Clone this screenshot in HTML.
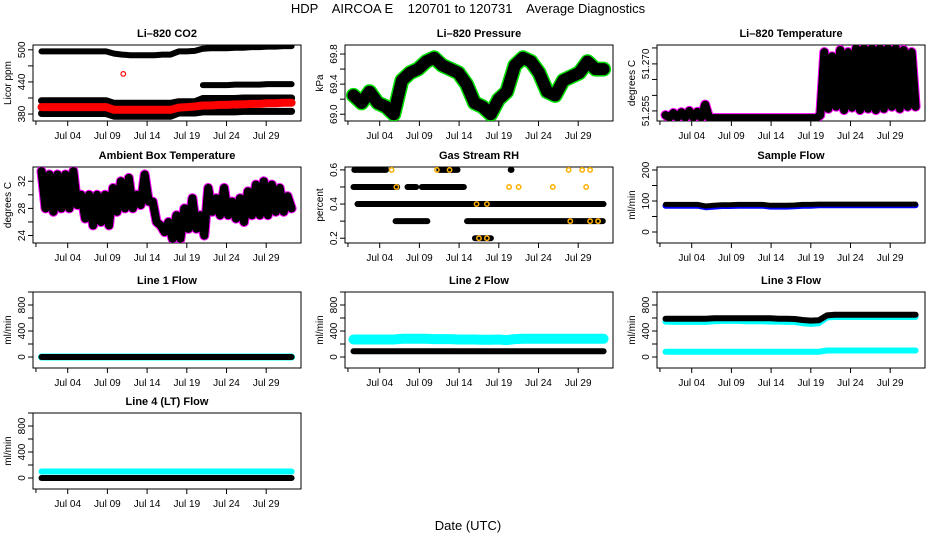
<!DOCTYPE html>
<html><head><meta charset="utf-8">
<style>
html,body{margin:0;padding:0;background:#fff;}
svg{display:block;font-family:"Liberation Sans",sans-serif;}
</style></head>
<body>
<svg id="chart" width="936" height="540" viewBox="0 0 936 540" xmlns="http://www.w3.org/2000/svg">
<text x="468" y="13" text-anchor="middle" font-size="13" style="white-space:pre" xml:space="preserve">HDP    AIRCOA E    120701 to 120731    Average Diagnostics</text>
<text x="468" y="530" text-anchor="middle" font-size="13">Date (UTC)</text>
</svg>
<script>
// ---- shared axis data ----
const tickDays = [3, 8, 13, 18, 23, 28];
const tickLabels = ['Jul 04', 'Jul 09', 'Jul 14', 'Jul 19', 'Jul 24', 'Jul 29'];

// ---- Li-820 CO2 (daily, Jul01..Aug01) ----
const co2Top = [497,497,497,497,497,497,497,497,497,493,491,490,490,490,490,491,491,497,497,498,502,503,503,503,504,504,505,505,506,506,507,507];
const co2Upper = [null,null,null,null,null,null,null,null,null,null,null,null,null,null,null,null,null,null,null,null,434,434,434,434,435,435,435,435,436,436,436,436];
const co2Mid = [405,405,405,405,405,405,405,405,405,400,400,400,400,400,400,400,400,403,403,403,409,409,409,409,409,410,410,410,410,410,410,410];
const co2Red = [393,393,393,393,393,393,393,393,393,388,388,388,388,388,388,388,388,392,393,394,396,396,397,397,398,398,399,399,400,400,401,401];
const co2Low = [381,381,381,381,381,381,381,381,381,376,376,376,376,376,376,376,376,382,382,382,384,384,384,384,384,385,385,385,385,385,385,385];

// ---- Li-820 Pressure (daily) ----
const pres = [69.25,69.15,69.3,69.15,69.1,69.0,69.45,69.55,69.6,69.7,69.75,69.65,69.6,69.55,69.4,69.15,69.1,69.0,69.2,69.3,69.65,69.75,69.7,69.55,69.3,69.25,69.45,69.5,69.55,69.7,69.6,69.6];

// ---- Li-820 Temperature (half-daily hi/lo) ----
const tempLi = [51.2540,51.2534,51.2545,51.2534,51.2547,51.2534,51.2550,51.2534,51.2548,51.2534,51.2565,51.2533,51.2533,51.2533,51.2533,51.2533,51.2533,51.2533,51.2533,51.2533,51.2533,51.2533,51.2533,51.2533,51.2533,51.2533,51.2533,51.2533,51.2533,51.2533,51.2533,51.2533,51.2533,51.2533,51.2533,51.2533,51.2533,51.2533,51.2533,51.2540,51.2690,51.2555,51.2680,51.2560,51.2695,51.2552,51.2690,51.2558,51.2700,51.2552,51.2700,51.2555,51.2700,51.2552,51.2700,51.2555,51.2700,51.2560,51.2700,51.2555,51.2695,51.2560,51.2690,51.2560];

// ---- Ambient Box Temperature (half-daily hi/lo) ----
const ambient = [33.5,28,33,27.5,33,28,33,28,33.5,28.5,30,26.5,30,25.5,30,26,30,25.5,31,27.5,32,28,32.5,28,30,28.5,33,29,29,26,25.5,24.5,26,23.5,27,23.5,28,25,29.5,25,27,24,31,27.5,29.5,27,31,27,29,26.5,29.5,26,30.5,27,31.5,27,32,27,31.5,27.5,31,27.5,29.8,28];

// ---- Gas Stream RH segments ----
const rhLevel = [0.6,0.6,0.5,0.5,0.5,0.4,0.3,0.3,0.2,0.6];
const rhStart = [-0.2,10.5,-0.3,6.5,8.3,0.2,5.0,14.0,15.0,19.5];
const rhEnd   = [3.8,12.8,5.2,7.6,13.6,31.2,9.0,31.1,17.0,19.6];
const rhOrange = [[4.5,0.6],[10.2,0.6],[11.8,0.6],[5.1,0.5],[19.3,0.5],[20.5,0.5],[24.8,0.5],[29,0.5],[15.2,0.4],[16.5,0.4],[15.5,0.2],[16.5,0.2],[26.8,0.6],[28.5,0.6],[29.5,0.6],[27,0.3],[29.5,0.3],[30.5,0.3]];

// ---- Flows (daily) ----
const sampleBlue = [85,85,85,85,85,80,82,84,84,85,85,85,85,82,82,82,83,85,85,86,86,86,86,86,86,86,86,86,86,86,86,86];
const sampleBlack = [89,89,89,89,89,84,86,88,88,89,89,89,89,86,86,86,87,89,89,90,90,90,90,90,90,90,90,90,90,90,90,90];
const line1Black = [0,0,0,0,0,0,0,0,0,0,0,0,0,0,0,0,0,0,0,0,0,0,0,0,0,0,0,0,0,0,0,0];
const line2Cyan = [270,270,270,270,270,270,280,280,280,280,275,275,275,270,270,270,265,265,270,260,275,280,280,280,280,280,280,280,280,280,280,280];
const line2Black = [90,90,90,90,90,90,90,90,90,90,90,90,90,90,90,90,90,90,90,90,90,90,90,90,90,90,90,90,90,90,90,90];
const line3Black = [590,590,590,590,590,590,595,595,595,595,595,595,595,595,590,590,585,570,560,565,640,650,650,650,650,650,650,650,650,650,650,650];
const line3CyanHi = [545,540,540,540,540,540,550,555,555,555,550,550,550,545,545,540,540,520,510,520,610,615,615,615,615,615,615,615,615,615,615,615];
const line3CyanLo = [80,80,80,80,80,80,80,80,80,80,80,80,80,80,80,80,80,80,80,80,100,100,100,100,100,100,100,100,100,100,100,100];
const line4Cyan = [100,100,100,100,100,100,100,100,100,100,100,100,100,100,100,100,100,100,100,100,100,100,100,100,100,100,100,100,100,100,100,100];
const line4Black = [0,0,0,0,0,0,0,0,0,0,0,0,0,0,0,0,0,0,0,0,0,0,0,0,0,0,0,0,0,0,0,0];

const NS = 'http://www.w3.org/2000/svg';
const svg = document.getElementById('chart');
const rowTop = [45, 167, 292, 413];
const BOXH = 76, BOXW = 268, T0 = -0.3, T1 = 31.2;

function mk(tag, attrs, parent) {
  const e = document.createElementNS(NS, tag);
  for (const k in attrs) e.setAttribute(k, attrs[k]);
  (parent || svg).appendChild(e);
  return e;
}

function panel(col, row, title, ylab, yMin, yMax, yTicks, yLabels, name) {
  const L = 33 + 312 * col, T = rowTop[row];
  const g = mk('g', {});
  
  
  const xs = t => L + 34.7 + (t - 3) * 7.94;
  const ys = v => T + (yMax - v) / (yMax - yMin) * BOXH;
  const box = mk('rect', {x: L, y: T, width: BOXW, height: BOXH, fill: 'none', stroke: '#000', 'stroke-width': 1}, g);
  
  
  const tt = mk('text', {x: L + BOXW / 2, y: T - 8, 'text-anchor': 'middle', 'font-size': 11, 'font-weight': 'bold'}, g);
  tt.textContent = title;
  
  
  const yl = mk('text', {x: 0, y: 0, 'text-anchor': 'middle', 'font-size': 10, transform: `translate(${L - 22},${T + BOXH / 2}) rotate(-90)`}, g);
  yl.textContent = ylab;
  
  
  const xa = mk('g', {}, g);
  
  
  mk('line', {x1: xs(T0 - 1.1), x2: xs(T1 + 1.1), y1: T + BOXH, y2: T + BOXH, stroke: '#000'}, xa);
  mk('line', {x1: xs(-1), x2: xs(-1), y1: T + BOXH, y2: T + BOXH + 4, stroke: '#000'}, xa);
  tickDays.forEach((d, i) => {
    mk('line', {x1: xs(d), x2: xs(d), y1: T + BOXH, y2: T + BOXH + 5, stroke: '#000'}, xa);
    const lb = mk('text', {x: xs(d), y: T + BOXH + 18, 'text-anchor': 'middle', 'font-size': 10}, xa);
    lb.textContent = tickLabels[i];
    
    
  });
  const ya = mk('g', {}, g);
  
  
  yTicks.forEach((v, i) => {
    mk('line', {x1: L - 5, x2: L, y1: ys(v), y2: ys(v), stroke: '#000'}, ya);
    if (yLabels[i]) {
      const lb = mk('text', {x: 0, y: 0, 'text-anchor': 'middle', 'font-size': 10, transform: `translate(${L - 8},${ys(v)}) rotate(-90)`}, ya);
      lb.textContent = yLabels[i];
      
      
    }
  });
  const clip = 'clip' + col + row;
  const cp = mk('clipPath', {id: clip}, g);
  mk('rect', {x: L, y: T, width: BOXW, height: BOXH}, cp);
  const data = mk('g', {'clip-path': `url(#${clip})`}, g);
  return {xs, ys, data};
}

function series(p, vals, color, w, name) {
  const n = vals.length;
  let segs = [], cur = [];
  vals.forEach((v, i) => {
    if (v === null) { if (cur.length) segs.push(cur); cur = []; return; }
    const t = T0 + i * (T1 - T0) / (n - 1);
    cur.push(p.xs(t).toFixed(1) + ',' + p.ys(v).toFixed(1));
  });
  if (cur.length) segs.push(cur);
  segs.forEach(s => {
    if (s.length === 1) s.push(s[0]);
    const pl = mk('polyline', {points: s.join(' '), fill: 'none', stroke: color, 'stroke-width': w, 'stroke-linecap': 'round', 'stroke-linejoin': 'round'}, p.data);
    
    
  });
}

// CO2
let p = panel(0, 0, 'Li\u2013820 CO2', 'Licor ppm', 367, 509, [380,410,440,470,500], ['380','','440','','500'], 'co2');
series(p, co2Top, '#000', 6, 'co2-series-top');
series(p, co2Upper, '#000', 6, 'co2-series-upper');
series(p, co2Mid, '#000', 7, 'co2-series-mid');
series(p, co2Low, '#000', 7, 'co2-series-low');
series(p, co2Red, '#f00', 8, 'co2-series-red');
let oc = mk('circle', {cx: p.xs(10), cy: p.ys(455), r: 2.3, fill: 'none', stroke: '#f00', 'stroke-width': 1.2}, p.data);



// Pressure
p = panel(1, 0, 'Li\u2013820 Pressure', 'kPa', 68.91, 69.92, [69.0,69.2,69.4,69.6,69.8], ['69.0','','69.4','','69.8'], 'pressure');
series(p, pres, '#00e000', 15, 'pressure-series-green');
series(p, pres, '#000', 12, 'pressure-series-black');

// Li-820 temperature
p = panel(2, 0, 'Li\u2013820 Temperature', 'degrees C', 51.2526, 51.2707, [51.255,51.2587,51.2625,51.2662,51.27], ['51.255','','','51.270',''], 'li820-temp');
series(p, tempLi, '#f0f', 10, 'li820-temp-series-magenta');
series(p, tempLi, '#000', 8, 'li820-temp-series-black');

// Ambient
p = panel(0, 1, 'Ambient Box Temperature', 'degrees C', 22.9, 34.1, [24,26,28,30,32], ['24','','28','','32'], 'ambient-temp');
series(p, ambient, '#f0f', 10, 'ambient-series-magenta');
series(p, ambient, '#000', 8, 'ambient-series-black');

// RH
p = panel(1, 1, 'Gas Stream RH', 'percent', 0.172, 0.617, [0.2,0.3,0.4,0.5,0.6], ['0.2','','0.4','','0.6'], 'rh');
rhLevel.forEach((lv, i) => {
  const ln = mk('line', {x1: p.xs(rhStart[i]), x2: p.xs(rhEnd[i]), y1: p.ys(lv), y2: p.ys(lv), stroke: '#000', 'stroke-width': 6, 'stroke-linecap': 'round'}, p.data);
  
  
});
rhOrange.forEach(d => {
  const c = mk('circle', {cx: p.xs(d[0]), cy: p.ys(d[1]), r: 2.2, fill: 'none', stroke: '#ffb000', 'stroke-width': 1.5}, p.data);
  
  
});

// Sample flow
p = panel(2, 1, 'Sample Flow', 'ml/min', -35.5, 209.7, [0,50,100,150,200], ['0','','100','','200'], 'sample-flow');
series(p, sampleBlue, '#00f', 6, 'sample-flow-series-blue');
series(p, sampleBlack, '#000', 5, 'sample-flow-series-black');

const fT = [0,200,400,600,800,1000], fL = ['0','','400','','800',''];
p = panel(0, 2, 'Line 1 Flow', 'ml/min', -169, 1000, fT, fL, 'line1-flow');
series(p, line1Black, '#0ff', 7, 'line1-series-cyan');
series(p, line1Black, '#000', 6, 'line1-series-black');

p = panel(1, 2, 'Line 2 Flow', 'ml/min', -169, 1000, fT, fL, 'line2-flow');
series(p, line2Cyan, '#0ff', 10, 'line2-series-cyan');
series(p, line2Black, '#000', 6, 'line2-series-black');

p = panel(2, 2, 'Line 3 Flow', 'ml/min', -169, 1000, fT, fL, 'line3-flow');
series(p, line3CyanHi, '#0ff', 6, 'line3-series-cyan-high');
series(p, line3CyanLo, '#0ff', 6, 'line3-series-cyan-low');
series(p, line3Black, '#000', 6, 'line3-series-black');

p = panel(0, 3, 'Line 4 (LT) Flow', 'ml/min', -169, 1000, fT, fL, 'line4-flow');
series(p, line4Cyan, '#0ff', 6, 'line4-series-cyan');
series(p, line4Black, '#000', 6, 'line4-series-black');
</script>
</body></html>
